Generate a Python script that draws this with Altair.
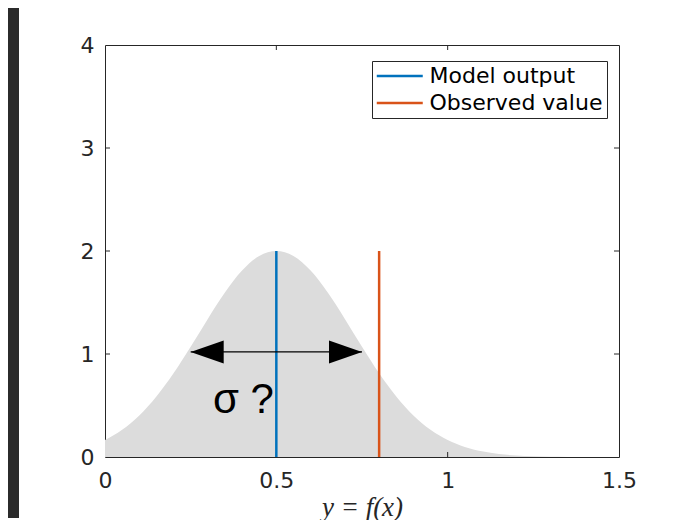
import altair as alt
import pandas as pd

# ---- data ----
curve_x = [0.0, 0.05, 0.1, 0.15, 0.2, 0.25, 0.3, 0.35, 0.4, 0.45, 0.5,
           0.55, 0.6, 0.65, 0.7, 0.75, 0.8, 0.85, 0.9, 0.95, 1.0,
           1.05, 1.1, 1.15, 1.2, 1.25, 1.3, 1.35, 1.4, 1.45, 1.5]
curve_y = [0.165, 0.264, 0.404, 0.588, 0.813, 1.071, 1.341, 1.597, 1.810, 1.951, 2.0,
           1.951, 1.810, 1.597, 1.341, 1.071, 0.813, 0.588, 0.404, 0.264, 0.165,
           0.097, 0.055, 0.029, 0.015, 0.007, 0.003, 0.001, 0.0, 0.0, 0.0]

series = ["Model output", "Observed value"]
series_x = [0.5, 0.8]
series_bottom = [0.0, 0.0]
series_top = [2.0, 2.0]
series_colors = ["#0072BD", "#D95319"]

x_ticks = [0, 0.5, 1, 1.5]
y_ticks = [0, 1, 2, 3, 4]
inner_x_ticks = [0.5, 1.0]
inner_y_ticks = [1, 2, 3]

arrow_left = [0.25]
arrow_right = [0.75]
arrow_level = [1.02]

sigma_text = ["σ ?"]
sigma_x = [0.315]
sigma_y = [0.427]

# ---- layout ----
W, H = 514, 412
AX = "#262626"

xs = alt.Scale(domain=[0, 1.5], nice=False, zero=False)
ys = alt.Scale(domain=[0, 4], nice=False, zero=False)

curve_df = pd.DataFrame({"x": curve_x, "y": curve_y})
series_df = pd.DataFrame({"series": series, "pos": series_x,
                          "lo": series_bottom, "hi": series_top})
xt_df = pd.DataFrame({"t": inner_x_ticks})
yt_df = pd.DataFrame({"t": inner_y_ticks})
arrow_df = pd.DataFrame({"l": arrow_left, "r": arrow_right, "y": arrow_level})
text_df = pd.DataFrame({"s": sigma_text, "x": sigma_x, "y": sigma_y})
one_df = pd.DataFrame({"a": [0]})

x_axis = alt.Axis(values=x_ticks, format="~g", title="y = f(x)",
                  labelPadding=13, labelFlush=False,
                  titleFont="Liberation Serif", titleFontStyle="italic",
                  titleFontSize=27, titleFontWeight="normal",
                  titlePadding=3, titleColor=AX)
y_axis = alt.Axis(values=y_ticks, format="~g", title=None,
                  labelPadding=11)


def X(f):
    return alt.X(f, scale=xs, axis=x_axis)


def Y(f):
    return alt.Y(f, scale=ys, axis=y_axis)


area = alt.Chart(curve_df).mark_area(color="#dcdcdc", interpolate="monotone").encode(
    x=X("x:Q"), y=Y("y:Q"))

strip = alt.Chart(one_df).mark_rect(color="#2b2b2b").encode(
    x=alt.value(-97), x2=alt.value(-86), y=alt.value(-37), y2=alt.value(H + 61))

top_ticks = alt.Chart(xt_df).mark_rule(color=AX, strokeWidth=1).encode(
    x=X("t:Q"), y=alt.value(0), y2=alt.value(5))
bot_ticks = alt.Chart(xt_df).mark_rule(color=AX, strokeWidth=1).encode(
    x=X("t:Q"), y=alt.value(H - 5), y2=alt.value(H))
left_ticks = alt.Chart(yt_df).mark_rule(color=AX, strokeWidth=1).encode(
    y=Y("t:Q"), x=alt.value(0), x2=alt.value(5))
right_ticks = alt.Chart(yt_df).mark_rule(color=AX, strokeWidth=1).encode(
    y=Y("t:Q"), x=alt.value(W - 5), x2=alt.value(W))

rules = alt.Chart(series_df).mark_rule(strokeWidth=2.5).encode(
    x=X("pos:Q"),
    y=Y("lo:Q"),
    y2="hi:Q",
    color=alt.Color("series:N",
                    scale=alt.Scale(domain=series, range=series_colors),
                    legend=alt.Legend(title=None, orient="none",
                                      legendX=267, legendY=16,
                                      symbolType="M-1.28,0 L4.47,0",
                                      symbolSize=256,
                                      symbolStrokeWidth=2.5,
                                      labelFont="DejaVu Sans", labelFontSize=22,
                                      labelColor="black", labelOffset=31.5,
                                      labelLimit=300,
                                      padding=4, rowPadding=5,
                                      strokeColor=AX, fillColor="white",
                                      cornerRadius=0)))

shaft = alt.Chart(arrow_df).mark_rule(color="black", strokeWidth=1.3).encode(
    x=X("l:Q"), x2="r:Q", y=Y("y:Q"))

head_l = alt.Chart(arrow_df).mark_point(
    shape="M0,0 L2,-0.7 L2,0.7 Z", size=1089, filled=True,
    color="black", opacity=1, strokeWidth=0).encode(x=X("l:Q"), y=Y("y:Q"))
head_r = alt.Chart(arrow_df).mark_point(
    shape="M0,0 L-2,-0.7 L-2,0.7 Z", size=1089, filled=True,
    color="black", opacity=1, strokeWidth=0).encode(x=X("r:Q"), y=Y("y:Q"))

sigma = alt.Chart(text_df).mark_text(
    font="Liberation Sans", fontSize=42, align="left",
    baseline="alphabetic", color="black").encode(
    x=X("x:Q"), y=Y("y:Q"), text="s:N")

chart = alt.layer(
    area, strip, top_ticks, bot_ticks, left_ticks, right_ticks,
    rules, shaft, head_l, head_r, sigma
).properties(
    width=W, height=H,
    padding={"left": 0, "top": 0, "right": 20, "bottom": 0},
    background="white",
).configure_axis(
    labelFont="DejaVu Sans", labelFontSize=22, labelColor=AX,
    ticks=False, domain=False, grid=False,
).configure_view(
    stroke=AX, strokeWidth=1,
)

chart.save("out.html", embed_options={"renderer": "svg", "actions": False})
